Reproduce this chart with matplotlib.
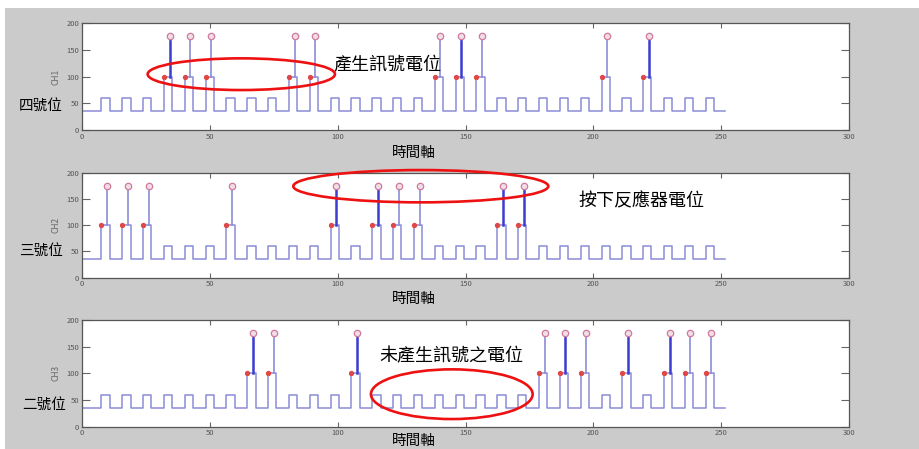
import matplotlib
matplotlib.use("Agg")
import matplotlib.pyplot as plt
from matplotlib.patches import Ellipse, Rectangle

plt.rcParams['font.family'] = ['Noto Sans CJK TC', 'DejaVu Sans']

# rising edges of the square wave (same clock on all three channels)
pulse_starts = [7.6, 15.8, 23.9, 32.1, 40.2, 48.4, 56.5, 64.7, 72.8, 81.0,
                89.1, 97.3, 105.4, 113.6, 121.7, 129.9, 138.0, 146.2, 154.3, 162.5,
                170.6, 178.8, 186.9, 195.1, 203.2, 211.4, 219.5, 227.7, 235.8, 244.0]
pulse_width = 3.2
t_end = 251.5
base_level = 35
low_level = 60
high_level = 100
peak_level = 175
peak_offset = 2.2

channels = ["CH1", "CH2", "CH3"]
# index of pulses that go up to 100 on each channel
high_pulses = {
    "CH1": [3, 4, 5, 9, 10, 16, 17, 18, 24, 26],
    "CH2": [0, 1, 2, 6, 11, 13, 14, 15, 19, 20],
    "CH3": [7, 8, 12, 21, 22, 23, 25, 27, 28, 29],
}
# stems that show up darker in the picture
dark_stems = {
    "CH1": [3, 17, 26],
    "CH2": [11, 13, 19, 20],
    "CH3": [7, 12, 22, 25, 27],
}
side_labels = ["四號位", "三號位", "二號位"]
xlabel = "時間軸"
notes = ["產生訊號電位", "按下反應器電位", "未產生訊號之電位"]

W, H = 919, 449
LINE = "#8c8cd8"
DARK = "#3c3cd2"


def fx(px):
    return px / W


def fy(py):
    return 1 - py / H


fig = plt.figure(figsize=(W / 100, H / 100), dpi=100)
fig.patch.set_facecolor("white")
fig.patches.append(Rectangle((fx(5), 0), 1, fy(8), transform=fig.transFigure,
                             facecolor="#cbcbcb", edgecolor="none", zorder=-10))

# axes boxes in pixels: left, top, right, bottom
boxes = [(82, 23, 849, 130), (82, 172.7, 849, 277.7), (82, 320, 849, 426.7)]
side_pos = [(41, 106), (41, 250.7), (44, 405)]
xlabel_y = [153, 299.3, 441]
note_pos = [(387.5, 65), (641, 201.7), (451, 356.7)]
ellipses = [(241.3, 74.2, 187.3, 31.7), (420.8, 186.2, 255, 32.3), (451.8, 394.2, 161.7, 49.7)]

for i, ch in enumerate(channels):
    l, t, r, b = boxes[i]
    ax = fig.add_axes([fx(l), fy(b), fx(r - l), (b - t) / H])

    xs, ys = [0], [base_level]
    for k, t0 in enumerate(pulse_starts):
        lvl = high_level if k in high_pulses[ch] else low_level
        xs += [t0, t0, t0 + pulse_width, t0 + pulse_width]
        ys += [base_level, lvl, lvl, base_level]
    xs.append(t_end)
    ys.append(base_level)
    ax.plot(xs, ys, color=LINE, lw=1.1)

    for k in high_pulses[ch]:
        t0 = pulse_starts[k]
        xp = t0 + peak_offset
        dark = k in dark_stems[ch]
        ax.plot([xp, xp], [high_level, peak_level], color=DARK if dark else LINE,
                lw=1.8 if dark else 1.2, zorder=3)
        ax.plot(xp, peak_level, "o", ms=4.6, mfc="#f0dde8", mec="#d07a9a", mew=0.9, zorder=4)
        ax.plot(t0, high_level, "o", ms=2.8, color="#e04848", zorder=4)

    ax.set_xlim(0, 300)
    ax.set_ylim(0, 200)
    ax.set_xticks([0, 50, 100, 150, 200, 250, 300])
    ax.set_yticks([0, 50, 100, 150, 200])
    ax.tick_params(direction="in", top=True, right=True, labelsize=5.5,
                   labelcolor="#555555", color="#666666", pad=2)
    ax.tick_params(axis="x", length=3.5)
    ax.tick_params(axis="y", length=6)
    for s in ax.spines.values():
        s.set_color("#555555")
        s.set_linewidth(0.9)
    ax.set_ylabel(ch, fontsize=6, color="#666666", labelpad=4)

    fig.text(fx(side_pos[i][0]), fy(side_pos[i][1]), side_labels[i], fontsize=10.5,
             ha="center", va="center", color="black")
    fig.text(fx(414), fy(xlabel_y[i]), xlabel, fontsize=10.5, ha="center", va="center",
             color="black")
    fig.text(fx(note_pos[i][0]), fy(note_pos[i][1]), notes[i], fontsize=13,
             ha="center", va="center", color="black")
    cx, cy, ew, eh = ellipses[i]
    fig.patches.append(Ellipse((fx(cx), fy(cy)), ew / W, eh / H, transform=fig.transFigure,
                               fill=False, edgecolor="#ee1111", lw=1.9, zorder=10))

fig.savefig("out.png", dpi=100)
